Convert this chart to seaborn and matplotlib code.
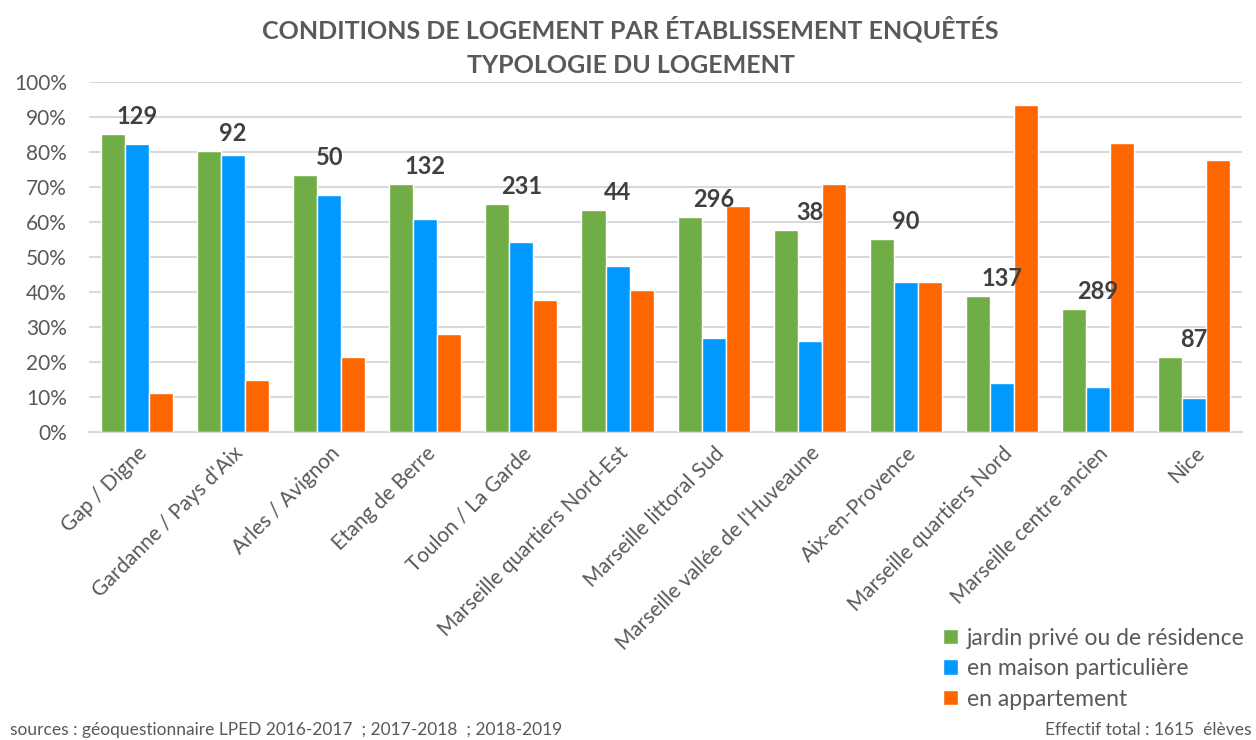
import pandas as pd
import matplotlib.pyplot as plt
import seaborn as sns
from matplotlib.ticker import PercentFormatter

# donnees
etablissements = ["Gap / Digne", "Gardanne / Pays d'Aix", "Arles / Avignon", "Etang de Berre",
                  "Toulon / La Garde", "Marseille quartiers Nord-Est", "Marseille littoral Sud",
                  "Marseille vallée de l'Huveaune", "Aix-en-Provence", "Marseille quartiers Nord",
                  "Marseille centre ancien", "Nice"]
jardin = [85.2, 80.2, 73.5, 70.9, 65.0, 63.4, 61.5, 57.6, 55.2, 38.9, 35.1, 21.4]
maison = [82.2, 79.0, 67.8, 60.8, 54.2, 47.5, 26.9, 26.1, 42.9, 14.1, 12.9, 9.7]
appartement = [11.2, 14.8, 21.4, 28.1, 37.8, 40.5, 64.7, 70.9, 42.9, 93.5, 82.6, 77.8]
effectifs = [129, 92, 50, 132, 231, 44, 296, 38, 90, 137, 289, 87]
series = ["jardin privé ou de résidence", "en maison particulière", "en appartement"]
couleurs = ["#70AD47", "#0099FF", "#FF6600"]

df = pd.DataFrame({
    "etab": etablissements * 3,
    "type": [series[0]] * 12 + [series[1]] * 12 + [series[2]] * 12,
    "valeur": jardin + maison + appartement,
})

sns.set_style("white")
plt.rcParams['font.family'] = ['Lato', 'DejaVu Sans']
gris = "#595959"

fig = plt.figure(figsize=(12.56, 7.4), dpi=100)
ax = fig.add_axes([0.0709, 0.4162, 0.918, 0.473])

sns.barplot(data=df, x="etab", y="valeur", hue="type", palette=couleurs,
            width=0.75, saturation=1, ax=ax, legend=True, zorder=3)

ax.set_ylim(0, 100)
ax.set_xlim(-0.5, len(etablissements) - 0.5)
ax.set_yticks(range(0, 101, 10))
ax.yaxis.set_major_formatter(PercentFormatter(decimals=0))
ax.grid(axis="y", color="#D9D9D9", linewidth=1.5, zorder=0)
ax.set_axisbelow(True)
for s in ["top", "right", "left"]:
    ax.spines[s].set_visible(False)
ax.spines["bottom"].set_color("#D9D9D9")
ax.spines["bottom"].set_linewidth(1.5)
ax.tick_params(axis="y", length=0, colors=gris, labelsize=15, pad=16)
ax.tick_params(axis="x", length=0, colors=gris, labelsize=15, pad=8)
ax.set_xlabel("")
ax.set_ylabel("")
plt.setp(ax.get_xticklabels(), rotation=45, ha="right", rotation_mode="anchor")

# effectifs au-dessus des groupes
for i, (n, v) in enumerate(zip(effectifs, jardin)):
    ax.text(i, v + 5, str(n), ha="center", va="center", fontsize=17,
            fontweight="bold", color="#404040")

fig.text(0.502, 0.96, "CONDITIONS DE LOGEMENT PAR ÉTABLISSEMENT ENQUÊTÉS",
         ha="center", va="center", fontsize=18, fontweight="bold", color=gris)
fig.text(0.502, 0.912, "TYPOLOGIE DU LOGEMENT",
         ha="center", va="center", fontsize=18, fontweight="bold", color=gris)

handles, labels = ax.get_legend_handles_labels()
ax.get_legend().remove()
leg = fig.legend(handles, labels, loc="upper left", bbox_to_anchor=(0.751, 0.152),
                 frameon=False, fontsize=16.5, handlelength=0.65, handleheight=0.65,
                 handletextpad=0.4, labelspacing=0.42, borderaxespad=0, borderpad=0)
for t in leg.get_texts():
    t.set_color(gris)

fig.text(0.008, 0.003, "sources : géoquestionnaire LPED 2016-2017  ; 2017-2018  ; 2018-2019",
         ha="left", va="bottom", fontsize=12.5, color=gris)
fig.text(0.832, 0.003, "Effectif total : 1615  élèves",
         ha="left", va="bottom", fontsize=12.5, color=gris)

fig.savefig("out.png", dpi=100)
